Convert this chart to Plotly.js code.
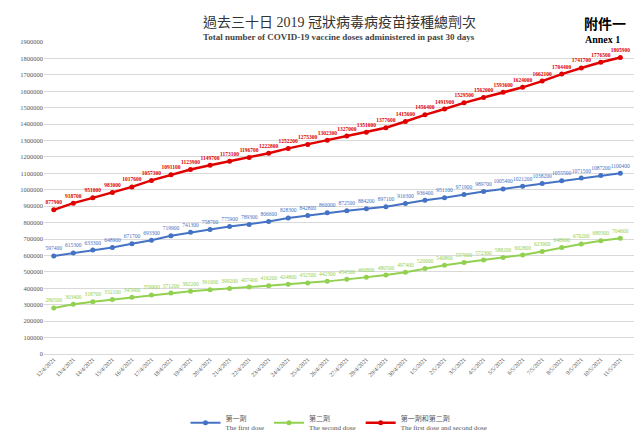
<!DOCTYPE html>
<html>
<head>
<meta charset="utf-8">
<script src="https://cdn.plot.ly/plotly-3.0.1.min.js"></script>
<style>body{margin:0;background:#fff}#chart{width:642px;height:447px}</style>
</head>
<body>
<div id="chart"></div>
<script>
const dates = ['12/4/2021','13/4/2021','14/4/2021','15/4/2021','16/4/2021','17/4/2021','18/4/2021','19/4/2021','20/4/2021','21/4/2021',
  '22/4/2021','23/4/2021','24/4/2021','25/4/2021','26/4/2021','27/4/2021','28/4/2021','29/4/2021','30/4/2021','1/5/2021',
  '2/5/2021','3/5/2021','4/5/2021','5/5/2021','6/5/2021','7/5/2021','8/5/2021','9/5/2021','10/5/2021','11/5/2021'];
const firstDose = [597400,615300,633300,648900,671700,693300,719900,741300,758700,775900,789300,806600,828300,842800,860000,
  872500,884200,897100,916300,936400,951100,971900,989700,1005400,1021200,1038200,1055500,1071500,1087200,1100400];
const secondDose = [280500,303400,318700,332100,345900,359900,371200,382200,391000,399200,407400,416200,424800,432500,442300,
  454500,466800,480500,497400,520000,540800,557600,572300,588200,602800,623900,648900,670200,689300,704600];
const totalDose = [877900,918700,951000,983000,1017600,1057300,1091100,1123900,1149700,1173100,1196700,1222800,1252200,1275300,
  1302300,1327000,1351000,1377600,1415600,1456400,1491900,1529500,1562000,1593600,1624000,1662100,1704400,1741700,1776500,1805900];

const serif = 'Liberation Serif, Noto Sans CJK TC, serif';

function series(y, name, color, bold) {
  return {
    x: dates, y: y, name: name, type: 'scatter', mode: 'lines+markers+text',
    line: {color: color, width: bold ? 2.5 : 2}, marker: {color: color, size: 5},
    text: y.map(v => bold ? '<b>' + v + '</b>' : String(v)), textposition: 'top center',
    textfont: {family: serif, size: 5.5, color: color}
  };
}

const traces = [
  series(firstDose, '第一劑<br>The first dose', '#4472c4'),
  series(secondDose, '第二劑<br>The second dose', '#92d050'),
  series(totalDose, '第一劑和第二劑<br>The first dose and second dose', '#e00000', true)
];

Plotly.newPlot('chart', traces, {
  width: 642, height: 447,
  margin: {l: 44, r: 8, t: 42, b: 72},
  paper_bgcolor: '#fff', plot_bgcolor: '#fff',
  showlegend: true,
  legend: {orientation: 'h', x: 0.5, xanchor: 'center', y: -0.17, yanchor: 'top',
    font: {family: serif, size: 7, color: '#555'}},
  xaxis: {type: 'category', tickangle: -45, tickfont: {family: serif, size: 6, color: '#555'},
    showgrid: false, showline: false, ticks: '', range: [-0.5, 29.7]},
  yaxis: {range: [0, 1900000], dtick: 100000, tickfont: {family: serif, size: 6.5, color: '#555'},
    gridcolor: '#d9d9d9', zeroline: true, zerolinecolor: '#d9d9d9', tickformat: 'd'},
  annotations: [
    {text: '過去三十日 2019 冠狀病毒病疫苗接種總劑次', x: 0.5, y: 1.0, xref: 'paper', yref: 'paper',
      yshift: 30, showarrow: false, font: {family: serif, size: 14, color: '#333'}},
    {text: '<b>Total number of COVID-19 vaccine doses administered in past 30 days</b>', x: 0.5, y: 1.0,
      xref: 'paper', yref: 'paper', yshift: 12, showarrow: false, font: {family: serif, size: 9, color: '#444'}},
    {text: '<b>附件一</b>', x: 1, y: 1, xref: 'paper', yref: 'paper', xanchor: 'right', yshift: 28, xshift: -6,
      showarrow: false, font: {family: serif, size: 14, color: '#000'}},
    {text: '<b>Annex 1</b>', x: 1, y: 1, xref: 'paper', yref: 'paper', xanchor: 'right', yshift: 10, xshift: -12,
      showarrow: false, font: {family: serif, size: 10, color: '#000'}}
  ]
}, {displayModeBar: false});
</script>
</body>
</html>
